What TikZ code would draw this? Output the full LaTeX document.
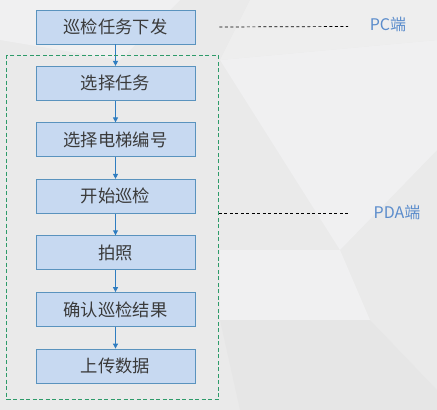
\documentclass[tikz,border=0pt]{standalone}
\usepackage{fontspec}
\setmainfont{Noto Sans CJK SC}
\usetikzlibrary{arrows.meta}
\definecolor{bgA}{HTML}{EAEAEA}
\definecolor{bgB}{HTML}{F0F0F1}
\definecolor{bgC}{HTML}{E6E6E6}
\definecolor{boxfill}{HTML}{C7D9F1}
\definecolor{boxline}{HTML}{5A93BE}
\definecolor{arrowc}{HTML}{2F7DC1}
\definecolor{greend}{HTML}{2E9B6A}
\definecolor{labelc}{HTML}{5C8DCC}
\definecolor{txt}{HTML}{3A3A3A}
\tikzset{
  stepbox/.style={draw=boxline, fill=boxfill, line width=0.8pt, minimum width=159pt, minimum height=34pt, inner sep=0pt, font=\fontsize{17.3}{19}\selectfont, text=txt},
  flow/.style={draw=arrowc, line width=0.9pt, -{Triangle[length=5pt,width=5pt]}},
  link/.style={draw=black, dashed, dash pattern=on 3pt off 2.5pt, line width=0.7pt},
  side/.style={text=labelc, font=\fontsize{16}{18}\selectfont, inner sep=0pt}
}
\begin{document}
\begin{tikzpicture}[x=1pt,y=-1pt]
\useasboundingbox (0,0) rectangle (437,410);
\fill[bgA] (0,0) rectangle (437,410);
\fill[bgB] (0,0) -- (180,0) -- (120,60) -- (0,40) -- cycle;
\fill[bgB] (220,60) -- (437,40) -- (437,150) -- (340,250) -- cycle;
\fill[bgB] (220,250) -- (340,250) -- (370,320) -- (220,320) -- cycle;
\fill[bgC] (220,320) -- (370,320) -- (437,390) -- (437,410) -- (240,410) -- cycle;
\fill[bgB!60!bgA] (250,0) -- (437,0) -- (437,40) -- (220,60) -- cycle;
% boxes
\node[stepbox] (b1) at (115.5,27) {巡检任务下发};
\node[stepbox] (b2) at (115.5,83.3) {选择任务};
\node[stepbox] (b3) at (115.5,139.8) {选择电梯编号};
\node[stepbox] (b4) at (115.5,196.3) {开始巡检};
\node[stepbox] (b5) at (115.5,252.7) {拍照};
\node[stepbox] (b6) at (115.5,309.5) {确认巡检结果};
\node[stepbox] (b7) at (115.5,366) {上传数据};
\draw[flow] (b1) -- (b2);
\draw[flow] (b2) -- (b3);
\draw[flow] (b3) -- (b4);
\draw[flow] (b4) -- (b5);
\draw[flow] (b5) -- (b6);
\draw[flow] (b6) -- (b7);
% group
\node[draw=greend, dashed, dash pattern=on 4pt off 2.5pt, line width=0.8pt, minimum width=212pt, minimum height=344pt, inner sep=0pt] (grp) at (112.5,227.5) {};
% side labels
\node[side] (pc) at (388,24) {PC端};
\node[side] (pda) at (397,212) {PDA端};
\coordinate (pcend) at (348,26.5);
\coordinate (pdaend) at (348,213);
\draw[link] ([xshift=24pt]b1.east) -- (pcend);
\draw[link] (grp.east |- pdaend) -- (pdaend);
\end{tikzpicture}
\end{document}
